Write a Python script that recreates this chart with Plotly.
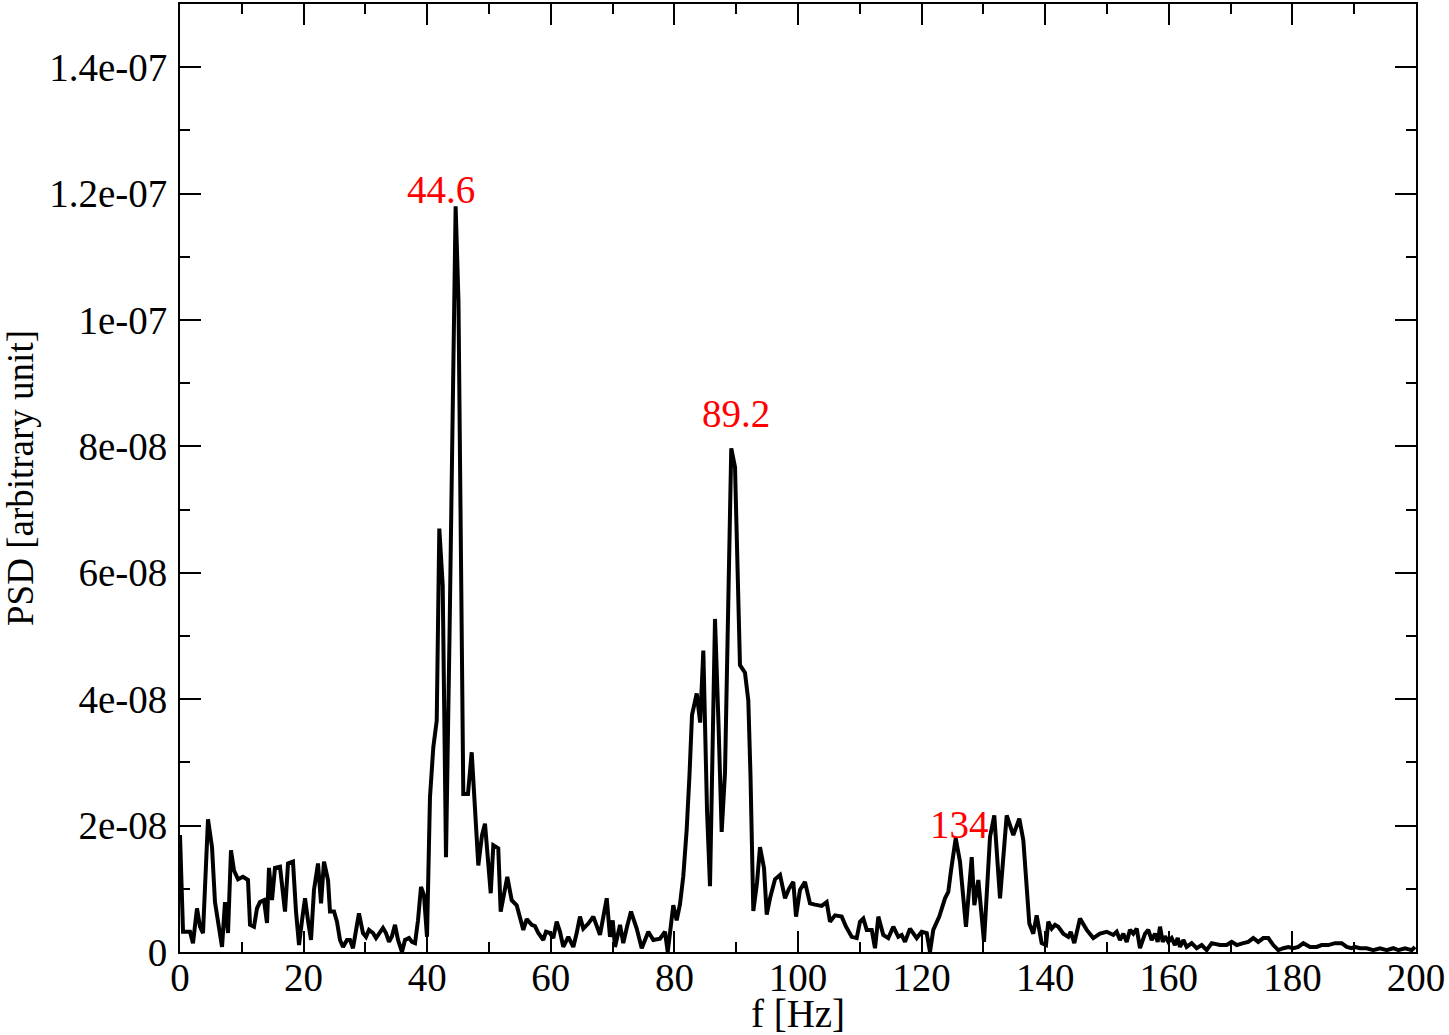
import plotly.graph_objects as go

# frequency [Hz] and PSD [1e-9 arbitrary unit]
freq = [
    0.00, 0.49, 1.13, 1.62, 2.10, 2.75, 3.24, 3.72, 4.53, 5.18, 5.66, 6.15, 6.80, 7.28, 7.77,
    8.25, 8.74, 9.39, 10.19, 11.00, 11.33, 11.97, 12.46, 12.94, 13.59, 14.08, 14.40, 14.89,
    15.37, 16.18, 16.99, 17.48, 18.28, 18.77, 19.26, 19.74, 20.23, 20.71, 21.20, 21.68, 22.33,
    22.82, 23.30, 23.95, 24.27, 24.92, 25.40, 25.89, 26.38, 27.02, 27.51, 27.99, 28.64, 28.96,
    29.61, 30.10, 30.58, 31.23, 31.72, 32.20, 32.85, 33.33, 33.82, 34.30, 34.79, 35.28, 35.92,
    36.41, 37.06, 37.54, 38.03, 38.51, 39.00, 39.48, 39.97,
    40.45, 40.99, 41.54, 41.96, 42.51, 43.04, 43.61, 44.16, 44.60, 45.06, 45.84, 46.60, 47.20,
    48.27, 48.87, 49.35, 50.28, 50.70, 51.50, 51.89, 52.96, 53.67, 54.48, 55.55, 56.10, 56.91,
    57.44, 57.98, 58.79, 59.22, 59.87, 60.40, 60.95, 61.49, 62.02, 62.83, 63.64, 64.19, 64.72,
    65.26, 66.07, 66.88, 67.96, 69.05, 69.58, 70.02, 70.39, 71.20, 71.73, 72.33, 72.98, 73.90,
    74.71, 75.78, 76.59, 77.67, 78.48, 78.92, 79.82, 80.37, 80.91, 81.44, 81.99, 82.44, 82.85,
    83.61, 84.17, 84.68, 85.28, 85.76, 86.57, 87.14, 87.65, 88.19, 89.20, 89.81, 90.61, 91.42,
    91.96, 92.31, 92.77, 93.37, 93.85, 94.50, 94.94, 95.47, 96.28, 97.09, 97.90, 98.54, 99.24,
    99.68, 100.32, 101.13, 101.94, 102.75, 103.83, 104.64, 105.18, 105.99, 107.07, 107.77,
    108.69, 109.50, 110.03, 110.57, 111.12, 111.93, 112.46, 113.00, 113.80, 114.61, 115.42,
    116.23, 116.78, 117.31, 118.12, 119.21, 120.02, 120.83, 121.36, 121.89, 122.86, 123.79,
    124.32, 124.76, 125.52, 126.21, 127.18, 128.11, 128.53, 129.18, 130.10, 131.07, 131.76,
    132.69, 133.77, 134.84, 135.81, 136.46, 137.43, 138.07, 138.62, 139.43, 140.13, 140.50,
    141.05, 141.59, 142.12, 142.93, 143.74, 144.13, 144.71, 145.63, 146.72, 147.78, 148.87,
    149.95, 151.02, 151.57, 152.10, 152.64, 153.19, 153.72, 154.26, 154.81, 155.34, 156.15,
    156.68, 157.23, 157.77, 158.20, 158.58, 159.01, 159.39, 159.92, 160.47, 161.00, 161.44,
    161.81, 162.35, 162.89, 163.70, 164.51, 165.32, 166.13, 166.94, 168.28, 169.37, 170.18,
    170.99, 172.05, 172.86, 173.67, 174.48, 175.29, 176.10, 176.91, 177.72, 178.53, 179.34,
    180.15, 180.96, 181.77, 182.85, 183.93, 184.74, 185.81, 186.89, 187.98, 188.79, 189.59,
    190.13, 190.94, 192.02, 193.09, 194.17, 195.26, 196.33, 197.14, 198.22, 199.30, 199.84,
]
psd = [
    18.5, 3.2, 3.2, 3.2, 1.4, 6.9, 4.0, 3.0, 21.0, 16.6, 7.9, 4.6, 0.8, 7.9, 3.0,
    16.1, 12.9, 11.5, 11.9, 11.4, 4.3, 4.0, 6.9, 7.9, 8.2, 4.6, 13.3, 8.2,
    13.3, 13.5, 6.4, 14.0, 14.3, 6.4, 1.1, 5.0, 8.5, 5.0, 1.9, 9.8, 14.0,
    7.7, 14.3, 11.4, 6.4, 6.4, 4.8, 1.9, 0.8, 1.9, 1.9, 0.6, 4.6, 6.1,
    3.0, 2.4, 3.5, 3.0, 2.2, 3.0, 3.8, 3.0, 1.6, 2.5, 4.3, 1.9, 0.0,
    1.9, 2.2, 1.6, 1.4, 5.0, 10.3, 9.0, 2.4,
    24.5, 32.4, 36.6, 67.0, 58.0, 15.0, 50.0, 86.0, 118.0, 103.0, 25.0, 25.0, 31.6,
    13.7, 18.5, 20.3, 9.3, 16.9, 16.4, 6.4, 11.9, 8.2, 7.4, 3.5, 5.2, 4.3,
    4.1, 3.0, 1.9, 3.2, 3.0, 2.2, 4.8, 3.2, 0.8, 2.4, 0.8, 3.0, 5.6,
    3.7, 4.5, 5.6, 2.7, 8.5, 2.4, 5.0, 0.8, 4.3, 1.4, 4.0, 6.4, 3.7,
    0.6, 3.2, 1.9, 2.1, 3.2, 0.0, 7.4, 5.0, 7.6, 12.0, 19.4, 28.0, 37.5,
    40.9, 36.3, 47.7, 22.3, 10.4, 52.7, 36.0, 19.0, 28.4, 79.7, 76.7, 45.4, 44.2,
    39.8, 28.0, 6.5, 11.0, 16.6, 13.3, 5.9, 8.5, 11.5, 12.2, 8.5, 10.0, 11.1,
    5.6, 9.8, 11.1, 7.7, 7.5, 7.3, 7.9, 4.8, 5.8, 5.6, 4.0,
    2.4, 2.2, 4.8, 5.3, 3.5, 3.5, 0.6, 5.6, 2.7, 2.2, 4.0,
    2.4, 2.7, 1.6, 3.7, 2.2, 3.2, 3.0, 0.0, 3.5, 5.6, 8.5,
    9.5, 12.9, 18.0, 14.3, 4.0, 15.0, 7.4, 11.4, 1.6, 18.2, 21.6,
    8.5, 21.6, 18.5, 21.1, 17.7, 4.5, 2.9, 5.8, 1.4, 1.1, 4.8,
    3.7, 4.3, 4.0, 2.9, 2.4, 3.2, 1.4, 5.3, 3.5, 2.2, 2.9,
    3.2, 2.7, 3.2, 1.9, 2.9, 1.6, 3.5, 2.9, 3.7, 0.6, 2.9,
    3.5, 1.9, 2.9, 1.6, 4.0, 1.6, 2.5, 1.6, 2.2, 1.1, 2.2,
    0.8, 1.9, 0.8, 1.4, 0.6, 1.1, 0.3, 1.4, 1.1, 1.1, 1.6,
    1.1, 1.4, 1.6, 2.2, 1.6, 2.2, 2.2, 1.1, 0.3, 0.6, 0.8,
    0.6, 0.8, 1.4, 0.8, 0.8, 1.1, 1.1, 1.4, 1.4, 0.8, 0.6,
    0.8, 0.6, 0.6, 0.3, 0.6, 0.3, 0.6, 0.3, 0.6, 0.3, 0.8,
]

peak_labels = ["44.6", "89.2", "134"]
peak_x = [42.2, 90.0, 126.2]
peak_y = [120.6e-9, 85.2e-9, 20.2e-9]

ytick_vals = [0, 2e-8, 4e-8, 6e-8, 8e-8, 1e-7, 1.2e-7, 1.4e-7]
ytick_text = ["0", "2e-08", "4e-08", "6e-08", "8e-08", "1e-07", "1.2e-07", "1.4e-07"]

FONT = "Liberation Serif, Times New Roman, serif"
FS = 39

fig = go.Figure()
fig.add_trace(
    go.Scatter(
        x=freq,
        y=[v * 1e-9 for v in psd],
        mode="lines",
        line=dict(color="black", width=4),
        showlegend=False,
    )
)

for txt, px, py in zip(peak_labels, peak_x, peak_y):
    fig.add_annotation(
        x=px, y=py, text=txt, showarrow=False,
        font=dict(family=FONT, size=FS, color="red"),
        xanchor="center", yanchor="middle",
    )

axis_common = dict(
    showline=True, linecolor="black", linewidth=2, mirror="ticks",
    ticks="inside", ticklen=21, tickwidth=2, tickcolor="black",
    showgrid=False, zeroline=False,
    tickfont=dict(family=FONT, size=FS, color="black"),
)

fig.update_xaxes(
    range=[0, 200], tickvals=list(range(0, 201, 20)),
    minor=dict(ticks="inside", ticklen=10, tickwidth=2, tickcolor="black", dtick=10, showgrid=False),
    title=dict(text="f [Hz]", font=dict(family=FONT, size=FS, color="black"), standoff=4),
    ticklabelstandoff=-10,
    **axis_common,
)
fig.update_yaxes(
    range=[0, 1.5e-7], tickvals=ytick_vals, ticktext=ytick_text,
    minor=dict(ticks="inside", ticklen=10, tickwidth=2, tickcolor="black", dtick=1e-8, showgrid=False),
    title=dict(text="PSD [arbitrary unit]", font=dict(family=FONT, size=37, color="black"), standoff=8),
    ticklabelstandoff=3,
    **axis_common,
)

fig.update_layout(
    width=1449, height=1035,
    margin=dict(l=180, r=33, t=2, b=83),
    plot_bgcolor="white", paper_bgcolor="white",
)

fig.write_html(
    "out.html",
    config={"displayModeBar": False},
    post_script="document.body.style.margin='0px';",
)
